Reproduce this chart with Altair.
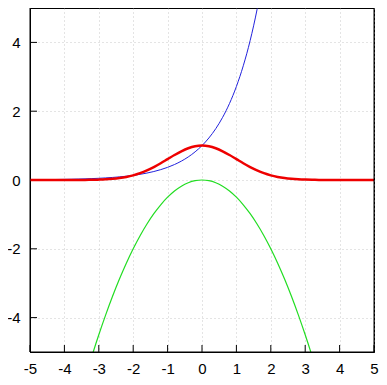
import altair as alt
import pandas as pd

# values
blue_x = [-5.0, -4.8, -4.6, -4.4, -4.2, -4.0, -3.8, -3.6, -3.4, -3.2, -3.0, -2.8, -2.6, -2.4, -2.2, -2.0,
          -1.8, -1.6, -1.4, -1.2, -1.0, -0.8, -0.6, -0.4, -0.2, 0.0, 0.2, 0.4, 0.6, 0.8, 1.0, 1.2, 1.4,
          1.6, 1.8, 2.0]
blue_y = [0.0067, 0.0082, 0.0101, 0.0123, 0.0150, 0.0183, 0.0224, 0.0273, 0.0334, 0.0408, 0.0498, 0.0608,
          0.0743, 0.0907, 0.1108, 0.1353, 0.1653, 0.2019, 0.2466, 0.3012, 0.3679, 0.4493, 0.5488, 0.6703,
          0.8187, 1.0, 1.2214, 1.4918, 1.8221, 2.2255, 2.7183, 3.3201, 4.0552, 4.9530, 6.0496, 7.3891]

red_x = [-5.0, -4.8, -4.6, -4.4, -4.2, -4.0, -3.8, -3.6, -3.4, -3.2, -3.0, -2.8, -2.6, -2.4, -2.2, -2.0,
         -1.8, -1.6, -1.4, -1.2, -1.0, -0.8, -0.6, -0.4, -0.2, 0.0, 0.2, 0.4, 0.6, 0.8, 1.0, 1.2, 1.4,
         1.6, 1.8, 2.0, 2.2, 2.4, 2.6, 2.8, 3.0, 3.2, 3.4, 3.6, 3.8, 4.0, 4.2, 4.4, 4.6, 4.8, 5.0]
red_y = [0.0, 0.0, 0.0, 0.0001, 0.0001, 0.0003, 0.0007, 0.0015, 0.0031, 0.0060, 0.0111, 0.0198, 0.0340,
         0.0561, 0.0889, 0.1353, 0.1979, 0.2780, 0.3753, 0.4868, 0.6065, 0.7261, 0.8353, 0.9231, 0.9802,
         1.0, 0.9802, 0.9231, 0.8353, 0.7261, 0.6065, 0.4868, 0.3753, 0.2780, 0.1979, 0.1353, 0.0889,
         0.0561, 0.0340, 0.0198, 0.0111, 0.0060, 0.0031, 0.0015, 0.0007, 0.0003, 0.0001, 0.0001, 0.0,
         0.0, 0.0]

green_x = [-3.4, -3.2, -3.0, -2.8, -2.6, -2.4, -2.2, -2.0, -1.8, -1.6, -1.4, -1.2, -1.0, -0.8, -0.6, -0.4,
           -0.2, 0.0, 0.2, 0.4, 0.6, 0.8, 1.0, 1.2, 1.4, 1.6, 1.8, 2.0, 2.2, 2.4, 2.6, 2.8, 3.0, 3.2, 3.4]
green_y = [-5.78, -5.12, -4.5, -3.92, -3.38, -2.88, -2.42, -2.0, -1.62, -1.28, -0.98, -0.72, -0.5, -0.32,
           -0.18, -0.08, -0.02, 0.0, -0.02, -0.08, -0.18, -0.32, -0.5, -0.72, -0.98, -1.28, -1.62, -2.0,
           -2.42, -2.88, -3.38, -3.92, -4.5, -5.12, -5.78]

x_ticks = [-5, -4, -3, -2, -1, 0, 1, 2, 3, 4, 5]
y_ticks = [-4, -2, 0, 2, 4]
frame_edges = [-5, 5]

W, H = 344, 344
FONT = "Liberation Sans"
FS = 15
TICK = 7

xs = alt.Scale(domain=[-5, 5], nice=False, zero=False)
ys = alt.Scale(domain=[-5, 5], nice=False, zero=False)

xaxis = alt.Axis(values=x_ticks, grid=True, gridDash=[1, 3], gridColor="#c8c8c8", gridWidth=1,
                 ticks=False, domain=True, domainColor="#000000", domainWidth=1,
                 labelPadding=9, labelFont=FONT, labelFontSize=FS,
                 labelColor="#000000", title=None, labelFlush=False,
                 labelExpr="toString(datum.value)")
yaxis = alt.Axis(values=y_ticks, grid=True, gridDash=[1, 3], gridColor="#c8c8c8", gridWidth=1,
                 ticks=False, domain=True, domainColor="#000000", domainWidth=1,
                 labelPadding=10, labelFont=FONT, labelFontSize=FS,
                 labelColor="#000000", title=None, labelFlush=False,
                 labelExpr="toString(datum.value)")

def line(xv, yv, color, width):
    df = pd.DataFrame({"x": xv, "y": yv})
    return alt.Chart(df).mark_line(color=color, strokeWidth=width, clip=True,
                                   interpolate="monotone").encode(
        x=alt.X("x:Q", scale=xs, axis=xaxis),
        y=alt.Y("y:Q", scale=ys, axis=yaxis),
    )

xt = pd.DataFrame({"v": x_ticks})
yt = pd.DataFrame({"v": y_ticks})
fe = pd.DataFrame({"e": frame_edges})
bottom_ticks = alt.Chart(xt).mark_rule(color="black", strokeWidth=1).encode(
    x=alt.X("v:Q", scale=xs, axis=xaxis), y=alt.value(H), y2=alt.value(H - TICK))
left_ticks = alt.Chart(yt).mark_rule(color="black", strokeWidth=1).encode(
    y=alt.Y("v:Q", scale=ys, axis=yaxis), x=alt.value(0), x2=alt.value(TICK))
frame_v = alt.Chart(fe).mark_rule(color="black", strokeWidth=1).encode(
    x=alt.X("e:Q", scale=xs, axis=xaxis), y=alt.value(0), y2=alt.value(H))
frame_h = alt.Chart(fe).mark_rule(color="black", strokeWidth=1).encode(
    y=alt.Y("e:Q", scale=ys, axis=yaxis), x=alt.value(0), x2=alt.value(W))

chart = alt.layer(
    bottom_ticks, left_ticks,
    line(green_x, green_y, "#22dd22", 1.2),
    line(blue_x, blue_y, "#2222dd", 1.0),
    line(red_x, red_y, "#ee0000", 2.5),
    frame_v, frame_h,
).properties(
    width=W, height=H,
    background="white",
    autosize=alt.AutoSizeParams(type="none"),
    padding={"left": 22, "top": 0, "right": 5, "bottom": 30},
).configure_view(stroke="black", strokeWidth=1)

chart.save("out.html", embed_options={"renderer": "svg", "actions": False})
